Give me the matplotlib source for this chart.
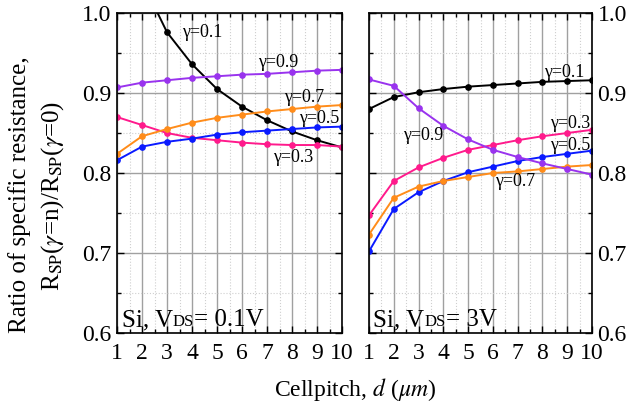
import numpy as np
import matplotlib
matplotlib.use("Agg")
import matplotlib.pyplot as plt
from matplotlib.ticker import MultipleLocator
from matplotlib.offsetbox import TextArea, HPacker, AnchoredOffsetbox

plt.rcParams['font.family'] = ['Liberation Serif', 'DejaVu Serif']
plt.rcParams['mathtext.fontset'] = 'stix'

d = np.arange(1, 11)

# Si, VDS = 0.1 V
low_g01 = [1.15, 1.04, 0.976, 0.936, 0.905, 0.883, 0.866, 0.852, 0.841, 0.832]
low_g03 = [0.870, 0.860, 0.850, 0.844, 0.841, 0.838, 0.836, 0.835, 0.835, 0.833]
low_g05 = [0.816, 0.833, 0.839, 0.843, 0.848, 0.851, 0.853, 0.855, 0.857, 0.858]
low_g07 = [0.824, 0.846, 0.855, 0.863, 0.869, 0.873, 0.877, 0.880, 0.883, 0.885]
low_g09 = [0.907, 0.913, 0.916, 0.919, 0.921, 0.923, 0.924, 0.926, 0.928, 0.929]

# Si, VDS = 3 V
high_g01 = [0.880, 0.895, 0.901, 0.905, 0.908, 0.910, 0.912, 0.914, 0.915, 0.916]
high_g03 = [0.747, 0.790, 0.807, 0.819, 0.829, 0.835, 0.841, 0.846, 0.850, 0.854]
high_g05 = [0.702, 0.755, 0.776, 0.790, 0.801, 0.808, 0.815, 0.820, 0.824, 0.828]
high_g07 = [0.723, 0.769, 0.783, 0.790, 0.795, 0.800, 0.802, 0.805, 0.808, 0.810]
high_g09 = [0.917, 0.909, 0.881, 0.859, 0.842, 0.829, 0.820, 0.812, 0.805, 0.798]

colors = {'0.1': 'black', '0.3': '#ff1a8c', '0.5': '#0a1aff',
          '0.7': '#ff8c1a', '0.9': '#9933ee'}

low = {'0.1': low_g01, '0.3': low_g03, '0.5': low_g05, '0.7': low_g07, '0.9': low_g09}
high = {'0.1': high_g01, '0.3': high_g03, '0.5': high_g05, '0.7': high_g07, '0.9': high_g09}

fig = plt.figure(figsize=(6.35, 4.09), dpi=100)
ax1 = fig.add_axes([0.1843, 0.186, 0.3543, 0.782])
ax2 = fig.add_axes([0.5811, 0.186, 0.3512, 0.782])


def style(ax, right=False):
    ax.set_xlim(1, 10)
    ax.set_ylim(0.6, 1.0)
    ax.xaxis.set_major_locator(MultipleLocator(1))
    ax.xaxis.set_minor_locator(MultipleLocator(0.5))
    ax.yaxis.set_major_locator(MultipleLocator(0.1))
    ax.yaxis.set_minor_locator(MultipleLocator(0.05))
    ax.grid(which='major', color='#a0a0a0', lw=1.0, ls='-')
    ax.grid(which='minor', color='#cfcfcf', lw=0.8, ls=':')
    ax.set_axisbelow(True)
    ax.tick_params(which='both', direction='in', top=True, right=True,
                   labelsize=17, width=1)
    ax.tick_params(which='major', length=5, pad=4)
    ax.tick_params(axis='x', which='major', pad=7)
    ax.tick_params(which='minor', length=3)
    if right:
        ax.tick_params(labelleft=False, labelright=True)
    ax.set_yticks([0.6, 0.7, 0.8, 0.9, 1.0])
    ax.set_yticklabels(['0.6', '0.7', '0.8', '0.9', '1.0'])
    for s in ax.spines.values():
        s.set_linewidth(1.2)


for ax, data in ((ax1, low), (ax2, high)):
    for g, vals in data.items():
        ax.plot(d, vals, color=colors[g], lw=1.4, marker='o', ms=3.8,
                clip_on=True)
style(ax1)
style(ax2, right=True)


def label(ax, x, y, g):
    ax.text(x, y, '\u03b3=' + g, fontsize=13, va='center', ha='left')


label(ax1, 3.6, 0.976, '0.1')
label(ax1, 6.65, 0.938, '0.9')
label(ax1, 7.7, 0.894, '0.7')
label(ax1, 8.3, 0.868, '0.5')
label(ax1, 7.25, 0.820, '0.3')

label(ax2, 8.05, 0.926, '0.1')
label(ax2, 8.3, 0.862, '0.3')
label(ax2, 8.3, 0.835, '0.5')
label(ax2, 6.1, 0.790, '0.7')
label(ax2, 2.36, 0.847, '0.9')


def condition(ax, v):
    parts = [TextArea('Si, V', textprops=dict(size=18)),
             TextArea('DS', textprops=dict(size=12)),
             TextArea('= ' + v, textprops=dict(size=18))]
    box = HPacker(children=parts, align='baseline', pad=0, sep=0)
    anc = AnchoredOffsetbox(loc='lower left', child=box, pad=0, frameon=False,
                            bbox_to_anchor=(0.02, 0.005),
                            bbox_transform=ax.transAxes, borderpad=0)
    ax.add_artist(anc)


condition(ax1, '0.1V')
condition(ax2, '3V')

fig.text(0.03, 0.523, 'Ratio of specific resistance,', rotation=90,
         fontsize=18, ha='center', va='center')
fig.text(0.083, 0.52, r'R$_{\mathrm{SP}}$($\gamma$=n)/R$_{\mathrm{SP}}$($\gamma$=0)',
         rotation=90, fontsize=18, ha='center', va='center')
fig.text(0.56, 0.048, r'Cellpitch, $d$ ($\mu m$)', fontsize=17,
         ha='center', va='center')

fig.savefig('out.png', dpi=100)
